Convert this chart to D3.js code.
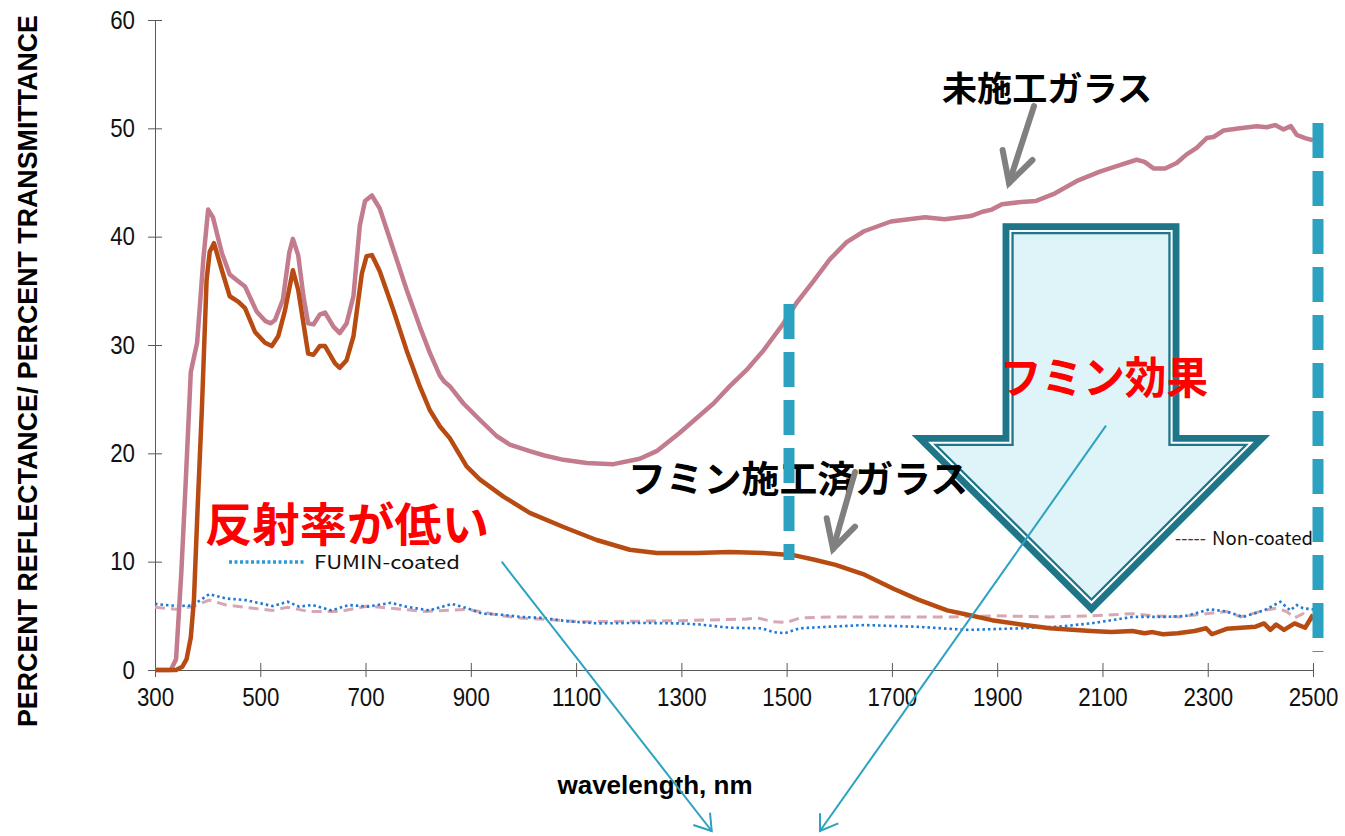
<!DOCTYPE html>
<html><head><meta charset="utf-8">
<script src="https://cdn.jsdelivr.net/npm/d3@7"></script>
<style>html,body{margin:0;padding:0;background:#fff;}svg{display:block;}</style>
</head><body>
<svg id="chart" width="1345" height="836"></svg>
<script>
// ---------------- DATA ----------------
const xTicks = [300,500,700,900,1100,1300,1500,1700,1900,2100,2300,2500];
const yTicks = [0,10,20,30,40,50,60];

// 未施工ガラス (non-coated glass), solid pink
const untreatedGlass = [[300,0],[330,0],[340,1],[350,9],[358,17],[368,27.5],[380,30.2],[392,38],[401,42.5],[410,41.8],[427,38.5],[442,36.5],[455,36],[471,35.4],[493,33.1],[510,32.2],[520,32],[528,32.3],[543,34.2],[555,38.5],[562,39.8],[572,38.3],[582,34.5],[591,32],[601,31.9],[613,32.8],[623,33],[639,31.7],[651,31.1],[664,32],[677,34.5],[689,41],[699,43.3],[712,43.8],[727,42.6],[753,38.8],[778,35.1],[803,31.7],[822,29.3],[841,27.2],[850,26.6],[860,26.2],[886,24.6],[917,23.1],[949,21.6],[974,20.8],[1012,20.2],[1040,19.8],[1076,19.4],[1120,19.1],[1171,19.0],[1221,19.5],[1253,20.2],[1297,21.9],[1361,24.6],[1392,26.2],[1424,27.7],[1456,29.5],[1494,32.0],[1519,33.9],[1551,35.9],[1582,37.9],[1614,39.5],[1647,40.5],[1698,41.4],[1763,41.8],[1800,41.6],[1850,41.9],[1872,42.3],[1890,42.5],[1909,43.0],[1946,43.2],[1974,43.3],[2010,44.0],[2054,45.2],[2095,46.0],[2133,46.6],[2165,47.1],[2180,46.9],[2197,46.3],[2219,46.3],[2241,46.8],[2260,47.6],[2279,48.2],[2298,49.1],[2311,49.2],[2330,49.8],[2361,50.0],[2393,50.2],[2412,50.1],[2428,50.3],[2444,49.9],[2458,50.2],[2469,49.4],[2485,49.1],[2500,48.9]];

// フミン施工済ガラス (FUMIN-coated glass), solid orange
const coatedGlass = [[300,0],[340,0],[352,0.3],[360,1],[368,3],[374,6.5],[381,15],[389,24],[398,36],[404,38.6],[412,39.4],[427,36.9],[442,34.5],[458,34.0],[471,33.4],[490,31.2],[509,30.2],[522,29.9],[534,30.8],[547,33.2],[562,36.9],[572,35.1],[582,32],[591,29.2],[601,29.1],[613,29.9],[623,29.9],[642,28.3],[651,27.9],[664,28.6],[677,30.8],[693,36.6],[702,38.2],[712,38.3],[727,36.8],[753,33.2],[778,29.5],[803,26.2],[822,24.0],[841,22.5],[860,21.4],[892,18.8],[917,17.6],[962,16.0],[1012,14.5],[1076,13.2],[1139,12.0],[1202,11.1],[1253,10.8],[1329,10.8],[1392,10.9],[1456,10.8],[1513,10.6],[1551,10.2],[1593,9.7],[1648,8.8],[1703,7.5],[1750,6.5],[1805,5.5],[1844,5.1],[1890,4.6],[1945,4.2],[2000,3.85],[2078,3.6],[2117,3.5],[2157,3.6],[2180,3.4],[2195,3.5],[2215,3.3],[2243,3.4],[2275,3.6],[2297,3.85],[2308,3.3],[2336,3.8],[2391,4.0],[2407,4.3],[2419,3.7],[2430,4.2],[2445,3.7],[2465,4.3],[2485,3.9],[2500,5.1]];

// Non-coated reflectance, dashed light pink
const nonCoatedRefl = [[300,5.8],[341,5.6],[371,5.85],[403,6.45],[435,6.0],[486,5.7],[523,5.5],[552,5.8],[592,5.4],[650,5.4],[704,5.9],[748,5.7],[814,5.4],[893,5.6],[917,5.4],[960,5.0],[995,4.8],[1068,4.6],[1107,4.45],[1200,4.5],[1297,4.55],[1424,4.7],[1445,4.8],[1475,4.45],[1500,4.4],[1525,4.8],[1582,4.9],[1648,4.9],[1805,4.9],[1898,5.0],[2000,4.9],[2078,5.0],[2157,5.2],[2200,5.0],[2247,4.9],[2297,5.2],[2336,5.4],[2363,4.9],[2407,5.5],[2430,5.7],[2450,5.4],[2465,4.8],[2481,5.2],[2500,4.6]];

// FUMIN-coated reflectance, dotted blue
const coatedRefl = [[300,6.1],[341,5.9],[371,5.95],[403,7.0],[435,6.6],[472,6.45],[501,6.15],[523,5.9],[552,6.3],[574,5.85],[599,6.0],[635,5.5],[668,6.0],[704,5.85],[748,6.2],[777,5.85],[821,5.5],[864,6.1],[893,5.7],[922,5.2],[959,5.1],[995,4.9],[1039,4.8],[1083,4.5],[1141,4.3],[1214,4.35],[1297,4.3],[1335,4.2],[1392,3.9],[1453,3.85],[1475,3.5],[1496,3.4],[1525,3.85],[1582,4.0],[1648,4.15],[1745,4.0],[1844,3.7],[1945,3.85],[2015,4.0],[2078,4.3],[2157,4.9],[2220,4.9],[2259,5.0],[2304,5.6],[2336,5.4],[2367,4.9],[2407,5.5],[2438,6.3],[2457,5.5],[2469,6.0],[2481,5.7],[2500,5.6]];

// ---------------- CHART ----------------
const svg = d3.select('#chart');
const x = d3.scaleLinear().domain([300,2500]).range([155,1313]);
const y = d3.scaleLinear().domain([0,60]).range([670,20]);
const AX = '#595959';
const tickFont = '"Liberation Sans Narrow","Arial Narrow","Liberation Sans",sans-serif';
const jpFont = '"Noto Sans CJK JP","Noto Sans CJK SC",sans-serif';
const fmt = d3.format('d');

function narrow(sel) {
  sel.attr('font-family', tickFont).attr('font-size', 26).attr('fill', '#111')
    .attr('textLength', function() { return this.textContent.length * 12.4; })
    .attr('lengthAdjust', 'spacingAndGlyphs');
}

// y axis
const gy = svg.append('g').attr('transform', `translate(${x(300)},0)`)
  .call(d3.axisLeft(y).tickValues(yTicks).tickFormat(fmt).tickSize(7).tickPadding(13).tickSizeOuter(0));
gy.select('.domain').attr('stroke', AX);
gy.selectAll('.tick line').attr('x1', -7).attr('x2', 7).attr('stroke', AX);
gy.selectAll('.tick text').call(narrow);

// x axis
const gx = svg.append('g').attr('transform', `translate(0,${y(0)})`)
  .call(d3.axisBottom(x).tickValues(xTicks).tickFormat(fmt).tickSize(7).tickPadding(11).tickSizeOuter(0));
gx.select('.domain').attr('stroke', AX);
gx.selectAll('.tick line').attr('y1', -7).attr('y2', 7).attr('stroke', AX);
gx.selectAll('.tick text').call(narrow);

// axis titles
svg.append('text').attr('transform', 'translate(37,371) rotate(-90)')
  .attr('text-anchor', 'middle').attr('font-family', '"Liberation Sans",Arial,sans-serif')
  .attr('font-weight', 'bold').attr('font-size', 27).attr('fill', '#000')
  .attr('textLength', 712).attr('lengthAdjust', 'spacingAndGlyphs')
  .text('PERCENT REFLECTANCE/ PERCENT TRANSMITTANCE');
svg.append('text').attr('x', 655).attr('y', 794).attr('text-anchor', 'middle')
  .attr('font-family', '"Liberation Sans",Arial,sans-serif').attr('font-weight', 'bold')
  .attr('font-size', 26).attr('fill', '#000').text('wavelength, nm');

// lines
const line = d3.line().x(d => x(d[0])).y(d => y(d[1])).curve(d3.curveLinear);
svg.append('path').datum(nonCoatedRefl).attr('d', line).attr('fill', 'none')
  .attr('stroke', '#d8a7b2').attr('stroke-width', 3).attr('stroke-dasharray', '10,6');
svg.append('path').datum(coatedRefl).attr('d', line).attr('fill', 'none')
  .attr('stroke', '#1f78d2').attr('stroke-width', 2.6).attr('stroke-dasharray', '2.5,3');
svg.append('path').datum(untreatedGlass).attr('d', line).attr('fill', 'none')
  .attr('stroke', '#c27c8d').attr('stroke-width', 4.5).attr('stroke-linejoin', 'round');
svg.append('path').datum(coatedGlass).attr('d', line).attr('fill', 'none')
  .attr('stroke', '#b84b12').attr('stroke-width', 4.5).attr('stroke-linejoin', 'round');

// ---------------- ANNOTATIONS ----------------
const TEAL = '#2ca2c0';
function vdash(px, y1, y2) {
  svg.append('line').attr('x1', px).attr('x2', px).attr('y1', y1).attr('y2', y2)
    .attr('stroke', TEAL).attr('stroke-width', 11).attr('stroke-dasharray', '35,13');
}

// block arrow
const arrowPts = [[1002.7,223.3],[1179.3,223.3],[1179.3,435],[1270,435],[1091.5,613.5],[911.7,435],[1002.7,435]];
const arrowD = 'M' + arrowPts.map(p => p.join(',')).join('L') + 'Z';
const defs = svg.append('defs');
defs.append('clipPath').attr('id', 'arrowClip').append('path').attr('d', arrowD);
const ga = svg.append('g').attr('clip-path', 'url(#arrowClip)');
ga.append('path').attr('d', arrowD).attr('fill', '#def4f9');
ga.append('path').attr('d', arrowD).attr('fill', 'none').attr('stroke', '#1f7689').attr('stroke-width', 22).attr('stroke-linejoin', 'miter').attr('stroke-miterlimit', 10);
ga.append('path').attr('d', arrowD).attr('fill', 'none').attr('stroke', '#ffffff').attr('stroke-width', 17.4).attr('stroke-linejoin', 'miter').attr('stroke-miterlimit', 10);
ga.append('path').attr('d', arrowD).attr('fill', 'none').attr('stroke', '#1f7689').attr('stroke-width', 13.4).attr('stroke-linejoin', 'miter').attr('stroke-miterlimit', 10);

// gray pointer arrows
function grayArrow(x1, y1, x2, y2, b1, b2) {
  const g = svg.append('g').attr('stroke', '#808080').attr('stroke-width', 6).attr('stroke-linecap', 'round').attr('fill', 'none');
  g.append('line').attr('x1', x1).attr('y1', y1).attr('x2', x2).attr('y2', y2);
  g.append('polyline').attr('points', `${b1[0]},${b1[1]} ${x2},${y2} ${b2[0]},${b2[1]}`).attr('stroke-linejoin', 'miter');
}
grayArrow(1034, 106, 1009, 183, [1002.6,150], [1032.5,160]);

function jpText(t, x0, yb, fs, len, color) {
  svg.append('text').attr('x', x0).attr('y', yb).attr('font-family', jpFont).attr('font-weight', 'bold')
    .attr('font-size', fs).attr('fill', color).attr('textLength', len).attr('lengthAdjust', 'spacingAndGlyphs').text(t);
}
jpText('未施工ガラス', 942, 101, 34, 210, '#000');
jpText('フミン施工済ガラス', 628, 493, 37, 340, '#000');

vdash(789, 304, 560);
vdash(1318, 123, 652);

grayArrow(855, 472, 833, 549, [826.7,518.3], [855,526.7]);

jpText('反射率が低い', 205, 541, 46, 284, '#ff0000');
jpText('フミン効果', 1000, 394, 44, 208, '#ff0000');

// legends
svg.append('line').attr('x1', 229).attr('x2', 305).attr('y1', 562).attr('y2', 562)
  .attr('stroke', '#2b9bd4').attr('stroke-width', 3.5).attr('stroke-dasharray', '3,2.5');
svg.append('text').attr('x', 314).attr('y', 569).attr('font-family', jpFont).attr('font-size', 18)
  .attr('fill', '#111').attr('textLength', 146).attr('lengthAdjust', 'spacingAndGlyphs').text('FUMIN-coated');
const nc = svg.append('text').attr('x', 1175).attr('y', 545).attr('font-family', jpFont).attr('font-size', 18).attr('fill', '#111');
nc.append('tspan').attr('fill', '#5a2626').attr('textLength', 31).attr('lengthAdjust', 'spacingAndGlyphs').text('-----');
nc.append('tspan').attr('x', 1212).attr('textLength', 101).attr('lengthAdjust', 'spacingAndGlyphs').text('Non-coated');

// thin teal pointer arrows
function thinArrow(x1, y1, x2, y2, b1, b2) {
  const g = svg.append('g').attr('stroke', TEAL).attr('stroke-width', 2).attr('fill', 'none');
  g.append('line').attr('x1', x1).attr('y1', y1).attr('x2', x2).attr('y2', y2);
  g.append('polyline').attr('points', `${b1[0]},${b1[1]} ${x2},${y2} ${b2[0]},${b2[1]}`);
}
thinArrow(501.7, 561.7, 711.7, 831, [693.3,825], [710,812.7]);
thinArrow(1106, 425.7, 820, 831, [820,813.3], [838.3,823.3]);
</script>
</body></html>
